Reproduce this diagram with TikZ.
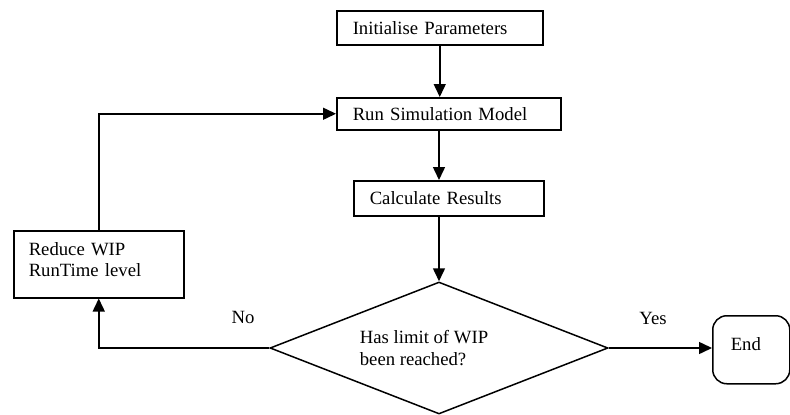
\documentclass[tikz,border=0pt]{standalone}
\usepackage{fontspec}
\setmainfont{Liberation Serif}
\usetikzlibrary{shapes.geometric,arrows.meta}
\begin{document}
\begin{tikzpicture}[x=1pt,y=-1pt,
  font=\fontsize{18.7}{21.5}\selectfont,
  box/.style={draw,line width=1.5pt,rectangle,inner xsep=16pt,inner ysep=0pt,align=left,anchor=north west},
  arr/.style={line width=1.5pt,-{Triangle[length=13pt,width=12pt]}},
  lbl/.style={inner sep=0pt}]
\useasboundingbox (0,0) rectangle (790,415);
\node[box,minimum width=206pt,minimum height=34pt,text width=174pt] (init) at (336,10) {Initialise Parameters};
\node[box,minimum width=224pt,minimum height=32pt,text width=192pt] (run) at (336,97) {Run Simulation Model};
\node[box,minimum width=190pt,minimum height=35pt,text width=158pt] (calc) at (353,180) {Calculate Results};
\node[box,inner xsep=15pt,minimum width=170pt,minimum height=67pt,text width=140pt] (reduce) at (13,230) {Reduce WIP\\RunTime level\rule[-9pt]{0pt}{9pt}};
\node[draw,line width=1.5pt,diamond,aspect=2.56,inner sep=0pt,minimum width=338pt,minimum height=132pt] (dec) at (439,348) {};
\node[lbl,align=left] (dectext) at (424,348) {Has limit of WIP\\been reached?};
\node[draw,line width=1.5pt,rectangle,rounded corners=14pt,anchor=north west,minimum width=77pt,minimum height=68pt,inner xsep=18pt,text width=41pt,align=left] (end) at (712,315) {\raisebox{11pt}{End}};
\node[lbl] (no) at (243,317) {No};
\node[lbl] (yes) at (653,318) {Yes};
\draw[arr] (init.south) -- (init.south |- run.north);
\draw[arr] (dec.north |- run.south) -- (dec.north |- calc.north);
\draw[arr] (dec.north |- calc.south) -- (dec.north);
\draw[arr] (reduce.north) |- (run.west);
\draw[arr] (dec.west) -| (reduce.south);
\draw[arr] (dec.east) -- (dec.east -| end.west);
\end{tikzpicture}
\end{document}
